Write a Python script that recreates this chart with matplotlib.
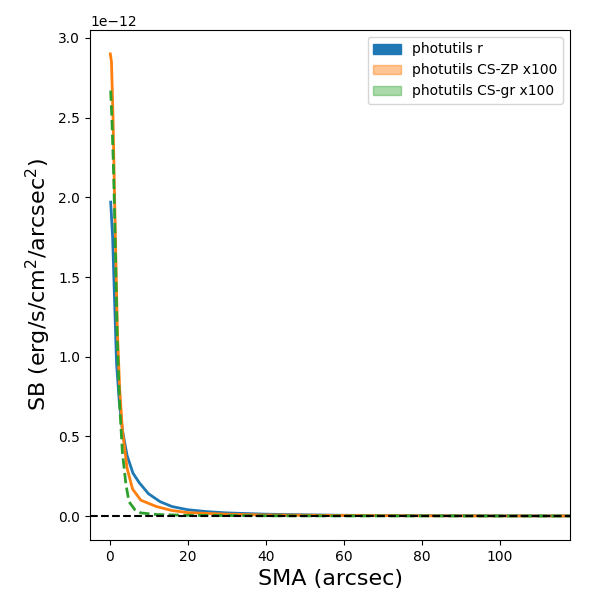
import matplotlib
matplotlib.use("Agg")
import matplotlib.pyplot as plt
from matplotlib.patches import Patch

sma_r = [0.3, 0.8, 1.3, 1.8, 2.5, 3.3, 4.5, 6, 7.6, 10, 13, 16, 20, 25, 30, 40, 50, 60, 80, 100, 118]
sb_r = [1.97, 1.75, 1.35, 0.96, 0.72, 0.54, 0.38, 0.27, 0.21, 0.14, 0.09, 0.06, 0.04, 0.028, 0.02, 0.012, 0.008, 0.005, 0.003, 0.002, 0.001]
sma_zp = [0.2, 0.5, 0.9, 1.3, 2.0, 2.6, 3.3, 4.5, 5.9, 8, 12, 16, 20, 30, 40, 60, 80, 100, 118]
sb_zp = [2.9, 2.85, 2.5, 2.0, 1.17, 0.8, 0.54, 0.3, 0.17, 0.1, 0.06, 0.035, 0.022, 0.012, 0.007, 0.004, 0.002, 0.001, 0.001]
sma_gr = [0.3, 0.6, 1.0, 1.3, 2.0, 2.6, 3.3, 4.2, 5, 6.5, 8, 12, 20, 40, 60, 80, 100, 118]
sb_gr = [2.67, 2.5, 2.2, 1.9, 1.1, 0.7, 0.4, 0.2, 0.09, 0.04, 0.02, 0.01, 0.005, 0.002, 0.001, 0.001, 0.0005, 0.0005]

fig, ax = plt.subplots(figsize=(6, 6), dpi=100)
scale = 1e-12
ax.plot(sma_r, [v*scale for v in sb_r], color='C0', lw=2)
ax.plot(sma_zp, [v*scale for v in sb_zp], color='C1', lw=2)
ax.plot(sma_gr, [v*scale for v in sb_gr], color='C2', lw=2, ls='--')
ax.axhline(0, color='k', ls='--', lw=1.5)
ax.set_xlim(-5, 118)
ax.set_ylim(-0.15e-12, 3.05e-12)
ax.set_xlabel('SMA (arcsec)', fontsize=16)
ax.set_ylabel(r'SB (erg/s/cm$^2$/arcsec$^2$)', fontsize=16)
handles = [Patch(color='C0', label='photutils r'),
           Patch(color='C1', alpha=0.45, label='photutils CS-ZP x100'),
           Patch(color='C2', alpha=0.4, label='photutils CS-gr x100')]
ax.legend(handles=handles, loc='upper right')
fig.subplots_adjust(left=0.15, right=0.95, top=0.95, bottom=0.1)
fig.savefig('out.png')
